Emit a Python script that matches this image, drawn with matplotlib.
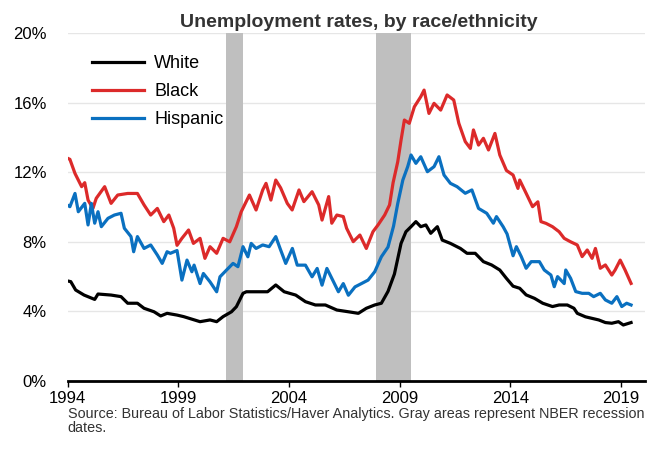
import numpy as np
import matplotlib
matplotlib.use("Agg")
import matplotlib.pyplot as plt

plt.rcParams["font.family"] = ["Liberation Sans", "DejaVu Sans"]

# values (decimal year, percent)
white_t = [1994.0, 1994.14, 1994.36, 1994.74, 1995.22, 1995.37, 1995.96, 1996.41, 1996.71,
           1997.15, 1997.45, 1997.9, 1998.2, 1998.49, 1998.94, 1999.24, 1999.98, 2000.43,
           2000.73, 2001.02, 2001.4, 2001.62, 2001.92, 2002.07, 2002.51, 2003.03, 2003.4,
           2003.78, 2004.3, 2004.74, 2005.19, 2005.64, 2006.16, 2006.68, 2007.13, 2007.49,
           2007.87, 2008.17, 2008.47, 2008.76, 2009.06, 2009.28, 2009.51, 2009.73, 2009.95,
           2010.18, 2010.4, 2010.7, 2010.92, 2011.29, 2011.74, 2012.04, 2012.41, 2012.78,
           2013.15, 2013.52, 2013.82, 2014.12, 2014.42, 2014.71, 2015.09, 2015.46, 2015.9,
           2016.2, 2016.57, 2016.87, 2017.02, 2017.39, 2017.69, 2017.99, 2018.29, 2018.58,
           2018.88, 2019.1, 2019.45]
white_v = [5.75, 5.71, 5.23, 4.94, 4.69, 5.0, 4.94, 4.85, 4.47,
           4.47, 4.18, 3.98, 3.74, 3.89, 3.79, 3.7, 3.41, 3.51,
           3.41, 3.7, 3.98, 4.27, 5.04, 5.13, 5.13, 5.13, 5.52,
           5.13, 4.94, 4.56, 4.37, 4.37, 4.08, 3.98, 3.89, 4.18,
           4.37, 4.47, 5.15, 6.15, 7.91, 8.58, 8.87, 9.16, 8.87,
           8.97, 8.49, 8.87, 8.1, 7.91, 7.62, 7.34, 7.34, 6.86,
           6.67, 6.38, 5.9, 5.45, 5.33, 4.95, 4.75, 4.47, 4.28,
           4.37, 4.37, 4.18, 3.89, 3.69, 3.6, 3.51, 3.36, 3.32,
           3.41, 3.22, 3.36]

black_t = [1994.0, 1994.1, 1994.33, 1994.63, 1994.77, 1994.92, 1995.14, 1995.29, 1995.67,
           1995.96, 1996.26, 1996.71, 1997.15, 1997.45, 1997.75, 1998.05, 1998.34, 1998.57,
           1998.79, 1998.94, 1999.16, 1999.46, 1999.68, 1999.98, 2000.2, 2000.43, 2000.73,
           2001.02, 2001.32, 2001.62, 2001.84, 2002.21, 2002.51, 2002.81, 2002.96, 2003.18,
           2003.4, 2003.62, 2003.92, 2004.14, 2004.45, 2004.67, 2005.04, 2005.34, 2005.49,
           2005.79, 2005.93, 2006.16, 2006.45, 2006.6, 2006.9, 2007.2, 2007.49, 2007.79,
           2008.02, 2008.32, 2008.54, 2008.7, 2008.91, 2009.06, 2009.21, 2009.43, 2009.66,
           2009.95, 2010.1, 2010.32, 2010.55, 2010.85, 2011.14, 2011.44, 2011.67, 2011.96,
           2012.19, 2012.33, 2012.56, 2012.78, 2013.01, 2013.3, 2013.52, 2013.82, 2014.12,
           2014.34, 2014.42, 2014.71, 2015.0, 2015.24, 2015.38, 2015.61, 2015.9, 2016.2,
           2016.43, 2016.72, 2017.02, 2017.24, 2017.47, 2017.69, 2017.84, 2018.06, 2018.29,
           2018.58, 2018.73, 2018.96, 2019.18, 2019.45]
black_v = [12.8, 12.74, 11.93, 11.17, 11.4, 10.4, 9.92, 10.5, 11.17,
           10.21, 10.69, 10.78, 10.78, 10.12, 9.54, 9.92, 9.16, 9.54,
           8.78, 7.8, 8.2, 8.68, 7.91, 8.2, 7.05, 7.72, 7.34,
           8.2, 8.0, 8.87, 9.73, 10.69, 9.83, 10.98, 11.36, 10.4,
           11.55, 11.1, 10.21, 9.83, 10.98, 10.31, 10.88, 10.12, 9.25,
           10.6, 9.07, 9.54, 9.45, 8.78, 8.01, 8.39, 7.62, 8.58,
           8.97, 9.54, 10.12, 11.4, 12.6, 13.85, 15.0, 14.81, 15.76,
           16.34, 16.72, 15.38, 15.96, 15.57, 16.44, 16.15, 14.81, 13.76,
           13.37, 14.43, 13.56, 13.95, 13.28, 14.23, 12.99, 12.1, 11.84,
           11.07, 11.55, 10.79, 10.02, 10.3, 9.16, 9.06, 8.87, 8.58,
           8.2, 8.0, 7.82, 7.15, 7.53, 7.05, 7.62, 6.48, 6.67,
           6.09, 6.38, 6.95, 6.38, 5.61]

hisp_t = [1994.0, 1994.1, 1994.33, 1994.48, 1994.77, 1994.92, 1995.07, 1995.22, 1995.37,
          1995.52, 1995.82, 1996.11, 1996.41, 1996.56, 1996.86, 1996.98, 1997.15, 1997.45,
          1997.75, 1998.05, 1998.27, 1998.49, 1998.64, 1998.94, 1999.16, 1999.39, 1999.61,
          1999.71, 1999.98, 2000.13, 2000.43, 2000.73, 2000.88, 2001.17, 2001.47, 2001.69,
          2001.92, 2002.14, 2002.29, 2002.51, 2002.81, 2003.1, 2003.4, 2003.6, 2003.85,
          2004.15, 2004.37, 2004.74, 2005.04, 2005.27, 2005.49, 2005.71, 2006.01, 2006.23,
          2006.45, 2006.68, 2006.98, 2007.27, 2007.57, 2007.87, 2008.17, 2008.47, 2008.72,
          2008.91, 2009.14, 2009.36, 2009.51, 2009.73, 2009.95, 2010.25, 2010.55, 2010.77,
          2011.0, 2011.29, 2011.59, 2011.96, 2012.26, 2012.56, 2012.93, 2013.23, 2013.37,
          2013.67, 2013.85, 2014.12, 2014.27, 2014.49, 2014.71, 2014.94, 2015.31, 2015.53,
          2015.83, 2015.98, 2016.13, 2016.43, 2016.5, 2016.72, 2016.95, 2017.24, 2017.54,
          2017.76, 2018.06, 2018.29, 2018.58, 2018.81, 2019.03, 2019.25, 2019.45]
hisp_v = [10.1, 10.02, 10.78, 9.73, 10.21, 8.97, 10.21, 9.07, 9.73,
          8.87, 9.35, 9.54, 9.64, 8.78, 8.3, 7.43, 8.3, 7.62,
          7.82, 7.24, 6.76, 7.43, 7.34, 7.5, 5.8, 6.95, 6.28,
          6.66, 5.6, 6.18, 5.7, 5.13, 5.99, 6.37, 6.76, 6.57,
          7.72, 7.14, 7.91, 7.62, 7.82, 7.72, 8.3, 7.6, 6.76,
          7.62, 6.66, 6.66, 5.99, 6.47, 5.51, 6.47, 5.7, 5.13,
          5.6, 4.93, 5.41, 5.6, 5.8, 6.28, 7.14, 7.7, 8.9,
          10.2, 11.55, 12.32, 12.99, 12.51, 12.89, 12.03, 12.32, 12.89,
          11.84, 11.36, 11.17, 10.79, 10.98, 9.92, 9.64, 9.07, 9.45,
          8.87, 8.45, 7.2, 7.72, 7.15, 6.48, 6.86, 6.86, 6.38,
          6.09, 5.42, 6.0, 5.6, 6.38, 5.9, 5.14, 5.04, 5.04,
          4.85, 5.04, 4.66, 4.47, 4.85, 4.28, 4.47, 4.37]

recessions = [(2001.17, 2001.9), (2007.92, 2009.5)]
year_ticks = [1994, 1999, 2004, 2009, 2014, 2019]
pct_ticks = [0, 4, 8, 12, 16, 20]

fig = plt.figure(figsize=(6.61, 4.5), dpi=100)
ax = fig.add_axes([0.1024, 0.1533, 0.8734, 0.7733])

for a, b in recessions:
    ax.axvspan(a, b, color="#bfbfbf", lw=0, zorder=1)

for y in pct_ticks[1:]:
    ax.axhline(y, color="#e6e6e6", lw=1, zorder=0)

ax.plot(white_t, white_v, color="black", lw=2.3, label="White", zorder=3)
ax.plot(black_t, black_v, color="#dc2a2a", lw=2.3, label="Black", zorder=3)
ax.plot(hisp_t, hisp_v, color="#0a70c0", lw=2.3, label="Hispanic", zorder=3)

ax.set_xlim(1994.0, 2020.08)
ax.set_ylim(0, 20)
ax.set_xticks(year_ticks)
ax.set_xticklabels([str(y) for y in year_ticks], fontsize=12)
ax.set_yticks(pct_ticks)
ax.set_yticklabels([f"{p}%" for p in pct_ticks], fontsize=12)
ax.tick_params(axis="y", length=0, pad=15)
ax.tick_params(axis="x", length=4, width=1, color="black", pad=3)
for s in ["left", "right", "top"]:
    ax.spines[s].set_visible(False)
ax.spines["bottom"].set_linewidth(2)
ax.spines["bottom"].set_zorder(4)

ax.legend(loc="upper left", bbox_to_anchor=(0.0416, 0.937), frameon=False, fontsize=13,
          handlelength=2.9, handletextpad=0.57, labelspacing=0.62,
          borderpad=0, borderaxespad=0)

fig.text(0.543, 1 - 27 / 450, "Unemployment rates, by race/ethnicity", ha="center",
         va="baseline", fontsize=14, fontweight="bold", color="#333333")
fig.text(0.1024, 1 - 418 / 450,
         "Source: Bureau of Labor Statistics/Haver Analytics. Gray areas represent NBER recession",
         ha="left", va="baseline", fontsize=10.4, color="#333333")
fig.text(0.1024, 1 - 432 / 450, "dates.", ha="left", va="baseline", fontsize=10.4,
         color="#333333")

fig.savefig("out.png", dpi=100)
